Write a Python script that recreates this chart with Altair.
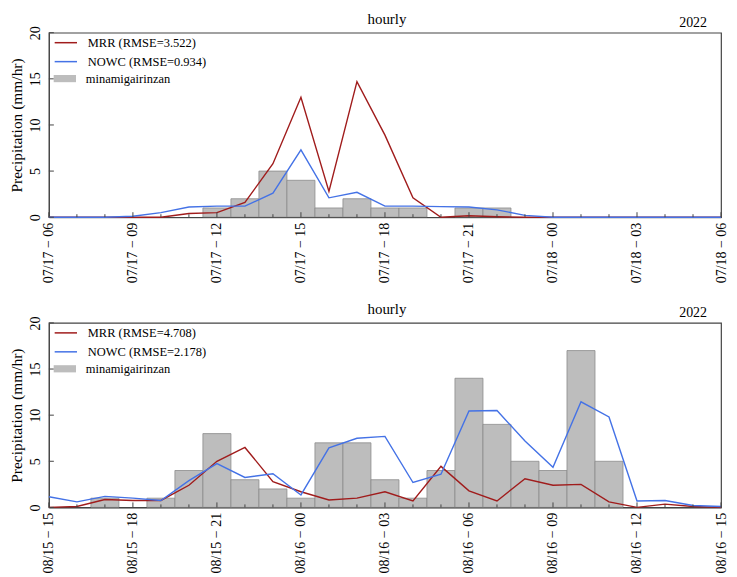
import altair as alt
import pandas as pd

FONT = "Liberation Serif"
MRR_COLOR = "#a01c1c"
NOWC_COLOR = "#4472e6"
BAR_FILL = "#bdbdbd"
BAR_EDGE = "#8c8c8c"
FRAME = "#444444"

# ---- data (hourly, 25 points per panel) ----
top_start = (2022, 7, 17, 6)
top_mrr = [0, 0, 0, 0, 0, 0.4, 0.5, 1.6, 5.8, 13.0, 2.8, 14.7, 8.9, 2.1, 0, 0.15, 0.05, 0, 0, 0, 0, 0, 0, 0, 0]
top_nowc = [0, 0, 0, 0.1, 0.5, 1.1, 1.2, 1.2, 2.6, 7.3, 2.1, 2.7, 1.2, 1.2, 1.15, 1.1, 0.8, 0.2, 0, 0, 0, 0, 0, 0, 0]
top_obs = [0, 0, 0, 0, 0, 0, 1, 2, 5, 4, 1, 2, 1, 1, 0, 1, 1, 0, 0, 0, 0, 0, 0, 0, 0]
top_rmse = ["3.522", "0.934"]

bot_start = (2022, 8, 15, 15)
bot_mrr = [0, 0.1, 0.85, 0.75, 0.75, 2.4, 5.0, 6.5, 2.8, 1.7, 0.8, 1.0, 1.7, 0.7, 4.45, 1.8, 0.7, 3.1, 2.4, 2.5, 0.6, 0, 0.35, 0.1, 0]
bot_nowc = [1.15, 0.6, 1.2, 1.0, 0.75, 2.9, 4.75, 3.25, 3.65, 1.35, 6.45, 7.5, 7.7, 2.7, 3.6, 10.45, 10.5, 7.2, 4.35, 11.45, 9.8, 0.7, 0.75, 0.2, 0.1]
bot_obs = [0, 0, 1, 0, 1, 4, 8, 3, 2, 1, 7, 7, 3, 1, 4, 14, 9, 5, 4, 17, 5, 0, 0, 0, 0]
bot_rmse = ["4.708", "2.178"]

obs_name = "minamigairinzan"
y_ticks = [0, 5, 10, 15, 20]
year_label = "2022"
panel_title = "hourly"

W, H = 674, 185


def dt(ts):
    return alt.DateTime(year=ts.year, month=ts.month, date=ts.day, hours=ts.hour)


def panel(start, mrr, nowc, obs, rmse):
    y, m, d, h = start
    t = pd.date_range(pd.Timestamp(y, m, d, h), periods=len(mrr), freq="h")
    names = [f"MRR (RMSE={rmse[0]})", f"NOWC (RMSE={rmse[1]})"]
    lines = pd.DataFrame({
        "t": list(t) * 2,
        "v": mrr + nowc,
        "s": [names[0]] * len(t) + [names[1]] * len(t),
    })
    bars = pd.DataFrame({
        "t0": t - pd.Timedelta(minutes=30),
        "t1": t + pd.Timedelta(minutes=30),
        "v": obs,
        "s": obs_name,
    })
    bars = bars[bars.v > 0]
    major = pd.DataFrame({"t": [ts for ts in t if ts.hour % 3 == 0]})
    minor = pd.DataFrame({"t": [ts for ts in t if ts.hour % 3 != 0]})
    yt = pd.DataFrame({"v": y_ticks})
    xscale = alt.Scale(domain=[dt(t[0]), dt(t[-1])])
    xaxis = alt.Axis(
        title=None,
        values=[dt(ts) for ts in t if ts.hour % 3 == 0],
        format="%m/%d \u2212 %H",
        labelAngle=-90, labelAlign="right", labelBaseline="middle",
        labelFont=FONT, labelFontSize=14, labelColor="#000",
        labelPadding=5, ticks=False,
        domainColor=FRAME, grid=False, labelOverlap=False, labelFlush=False,
    )
    yscale = alt.Scale(domain=[0, 20], nice=False)
    yaxis = alt.Axis(
        title="Precipitation (mm/hr)", titleFont=FONT, titleFontSize=15.5,
        titleFontWeight="normal", titleColor="#000", titlePadding=4.5,
        values=y_ticks, labelAngle=-90, labelAlign="center", labelBaseline="bottom",
        labelFont=FONT, labelFontSize=14, labelColor="#000", labelPadding=6,
        ticks=False, domainColor=FRAME, grid=False,
    )
    bar = alt.Chart(bars).mark_bar(stroke=BAR_EDGE, strokeWidth=0.8, clip=True).encode(
        x=alt.X("t0:T", scale=xscale, axis=xaxis),
        x2="t1:T",
        y=alt.Y("v:Q", scale=yscale, axis=yaxis),
        y2=alt.datum(0),
        fill=alt.Fill("s:N", scale=alt.Scale(domain=[obs_name], range=[BAR_FILL]),
                      legend=alt.Legend(title=None, orient="none", legendX=8, legendY=38,
                                        symbolType="M-1.4,-0.45L1.4,-0.45L1.4,0.45L-1.4,0.45Z",
                                        symbolSize=256, symbolStrokeWidth=0, symbolOpacity=1,
                                        labelFont=FONT, labelFontSize=12.5, labelColor="#000",
                                        labelOffset=13, padding=0)),
    )
    line = alt.Chart(lines).mark_line(strokeWidth=1.4).encode(
        x=alt.X("t:T", scale=xscale, axis=xaxis),
        y=alt.Y("v:Q", scale=yscale, axis=yaxis),
        stroke=alt.Stroke("s:N", scale=alt.Scale(domain=names, range=[MRR_COLOR, NOWC_COLOR]),
                          legend=alt.Legend(title=None, orient="none", legendX=8, legendY=1,
                                            symbolType="M-1.4,0L1.4,0", symbolSize=256,
                                            symbolStrokeWidth=1.5, labelFont=FONT,
                                            labelFontSize=12.5, labelColor="#000",
                                            labelOffset=13, rowPadding=3, padding=0)),
    )
    xmajor = alt.Chart(major).mark_rule(color=FRAME, strokeWidth=1).encode(
        x=alt.X("t:T", scale=xscale, axis=xaxis),
        y=alt.value(H), y2=alt.value(H - 5),
    )
    xminor = alt.Chart(minor).mark_rule(color=FRAME, strokeWidth=1).encode(
        x=alt.X("t:T", scale=xscale, axis=xaxis),
        y=alt.value(H), y2=alt.value(H - 3),
    )
    yticks = alt.Chart(yt).mark_rule(color=FRAME, strokeWidth=1).encode(
        y=alt.Y("v:Q", scale=yscale, axis=yaxis),
        x=alt.value(0), x2=alt.value(5),
    )
    texts = pd.DataFrame({"label": [panel_title, year_label]})
    title_txt = alt.Chart(texts).transform_filter(f"datum.label == '{panel_title}'").mark_text(
        align="center", baseline="bottom", font=FONT, fontSize=15, color="#000"
    ).encode(x=alt.value(W / 2 + 2), y=alt.value(-6), text="label:N")
    year_txt = alt.Chart(texts).transform_filter(f"datum.label == '{year_label}'").mark_text(
        align="right", baseline="bottom", font=FONT, fontSize=14, color="#000"
    ).encode(x=alt.value(W - 14), y=alt.value(-3), text="label:N")
    return alt.layer(bar, line, xmajor, xminor, yticks, title_txt, year_txt).properties(
        width=W, height=H,
    ).resolve_scale(stroke="independent", fill="independent")


top = panel(top_start, top_mrr, top_nowc, top_obs, top_rmse)
bot = panel(bot_start, bot_mrr, bot_nowc, bot_obs, bot_rmse)

chart = alt.vconcat(top, bot, spacing=17).resolve_scale(
    stroke="independent", fill="independent", x="independent"
).configure_view(stroke=FRAME, strokeWidth=1.2).properties(
    padding={"left": 0, "top": 2, "right": 0, "bottom": 0}
)

chart.save("out.html", embed_options={"renderer": "svg", "actions": False})
